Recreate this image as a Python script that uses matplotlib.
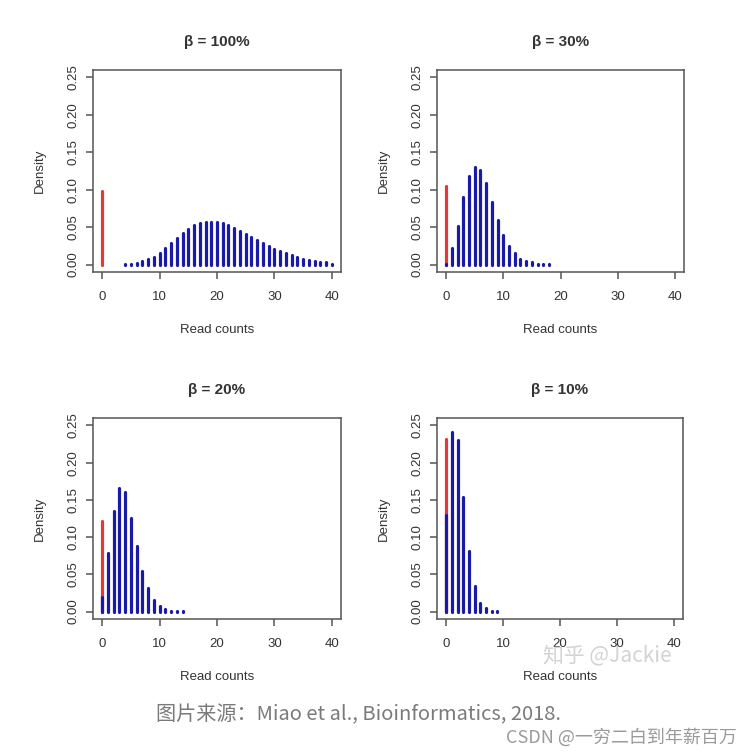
# -*- coding: utf-8 -*-
# Distribuzioni delle read counts per diversi valori di beta (stile grafico R)

import numpy as np
import matplotlib
matplotlib.use('Agg')
import matplotlib.pyplot as plt

plt.rcParams['font.family'] = ['Liberation Sans', 'DejaVu Sans']

# dati
titoli = ['β = 100%', 'β = 30%', 'β = 20%', 'β = 10%']
rosso_zero = [0.098, 0.105, 0.122, 0.232]  # barra rossa a x = 0

x_100 = list(range(4, 41))
y_100 = [0.001, 0.001, 0.0018, 0.0044, 0.0071, 0.0107, 0.016, 0.0222, 0.0284,
         0.0351, 0.0417, 0.048, 0.0524, 0.0555, 0.0568, 0.0573, 0.0568, 0.0551,
         0.0524, 0.0488, 0.0453, 0.0408, 0.0373, 0.0329, 0.0284, 0.0249, 0.0213,
         0.0178, 0.0151, 0.0124, 0.0098, 0.008, 0.0062, 0.0044, 0.0036, 0.0027,
         0.0013]

x_30 = list(range(0, 19))
y_30 = [0.001, 0.022, 0.052, 0.090, 0.118, 0.131, 0.126, 0.109, 0.084, 0.060,
        0.040, 0.025, 0.015, 0.008, 0.005, 0.003, 0.001, 0.001, 0.001]

x_20 = list(range(0, 15))
y_20 = [0.020, 0.078, 0.135, 0.166, 0.160, 0.126, 0.088, 0.054, 0.031, 0.016,
        0.007, 0.003, 0.001, 0.001, 0.001]

x_10 = list(range(0, 10))
y_10 = [0.130, 0.241, 0.230, 0.154, 0.081, 0.034, 0.012, 0.005, 0.001, 0.001]

serie_x = [x_100, x_30, x_20, x_10]
serie_y = [y_100, y_30, y_20, y_10]

xticks = [0, 10, 20, 30, 40]
yticks = [0.00, 0.05, 0.10, 0.15, 0.20, 0.25]

W, H = 754, 755
# riquadri in pixel: (sinistra, alto, destra, basso)
box = [(93, 70, 341, 272), (437, 70, 684, 272),
       (93, 418, 341, 619), (437, 418, 683, 619)]

fig = plt.figure(figsize=(W / 100, H / 100), dpi=100)

for i in range(4):
    l, t, r, b = box[i]
    ax = fig.add_axes([l / W, 1 - b / H, (r - l) / W, (b - t) / H])
    ax.vlines(0, 0, rosso_zero[i], color='#e03a3a', lw=2.3, capstyle='round')
    ax.vlines(serie_x[i], 0, serie_y[i], color='#1a1aa8', lw=2.3, capstyle='round')
    ax.set_xlim(-1.6, 41.6)
    ax.set_ylim(-0.01, 0.26)
    ax.set_xticks(xticks)
    ax.set_yticks(yticks)
    ax.set_yticklabels(['%.2f' % v for v in yticks], rotation=90, va='center')
    ax.tick_params(direction='out', length=5, width=1.1, color='#555555',
                   labelcolor='#333333', labelsize=9.5)
    ax.tick_params(axis='x', pad=9)
    ax.tick_params(axis='y', pad=5)
    for s in ax.spines.values():
        s.set_color('#555555')
        s.set_linewidth(1.1)
    ax.set_title(titoli[i], fontsize=11, fontweight='bold', color='#333333',
                 y=1 + 28 / (b - t), va='center', pad=0)
    ax.set_xlabel('Read counts', fontsize=9.5, color='#333333', va='center')
    ax.xaxis.set_label_coords(0.5, -58 / (b - t))
    ax.set_ylabel('Density', fontsize=9.5, color='#333333', va='center')
    ax.yaxis.set_label_coords(-53 / (r - l), 0.5)

# didascalia e scritte in fondo
fig.text(359 / W, 1 - 715 / H, '图片来源：Miao et al., Bioinformatics, 2018.',
         ha='center', va='center', fontsize=14.5, color='#7a7a7a',
         family=['Noto Sans CJK SC', 'DejaVu Sans'])
fig.text(737 / W, 1 - 737 / H, 'CSDN @一穷二白到年薪百万',
         ha='right', va='center', fontsize=13, color='#9a9a9a',
         family=['Noto Sans CJK SC', 'DejaVu Sans'])
fig.text(607 / W, 1 - 655 / H, '知乎 @Jackie',
         ha='center', va='center', fontsize=15, color='#c8c8c8', alpha=0.8,
         family=['Noto Sans CJK SC', 'DejaVu Sans'])

plt.savefig('out.png', dpi=100)
